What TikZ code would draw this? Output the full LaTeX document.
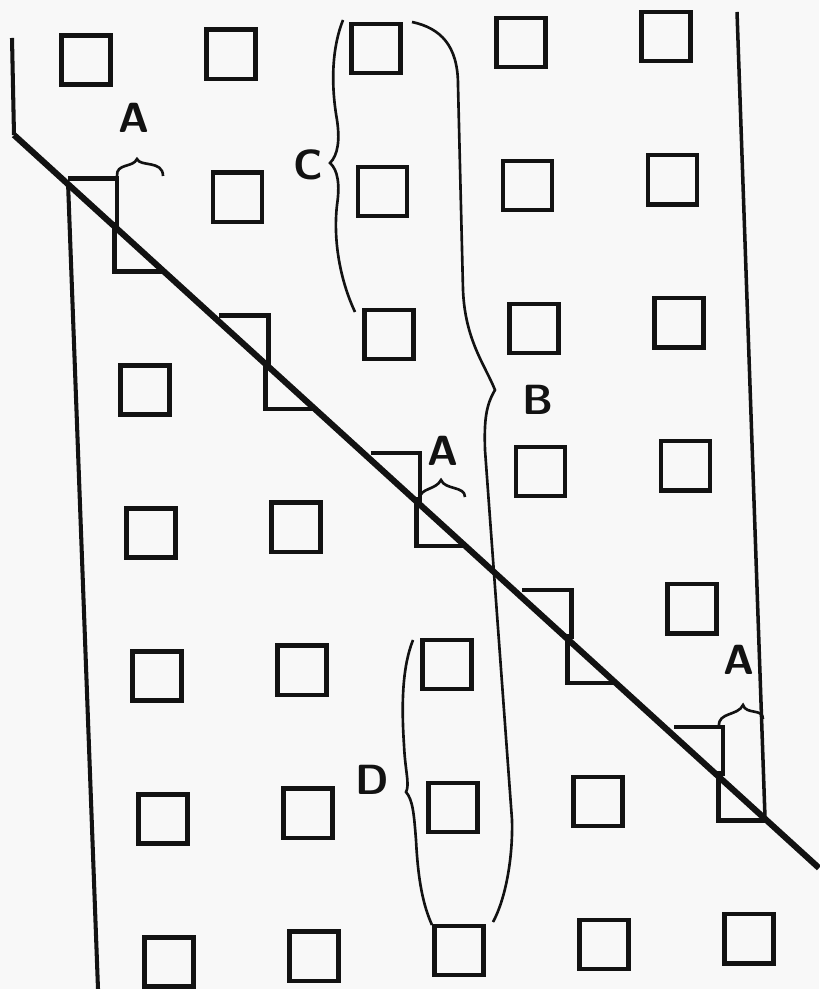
\documentclass[tikz,border=0pt]{standalone}
\usepackage{tikz}
\definecolor{paper}{RGB}{248,248,248}
\definecolor{ink}{RGB}{18,18,18}
\tikzset{
  cell/.style={rectangle, draw=ink, minimum size=0.49cm, inner sep=0pt,
    outer sep=0pt, line width=1.25pt},
  halfcell/.style={rectangle, minimum size=0.49cm, inner sep=0pt, outer sep=0pt},
  edge/.style={draw=ink, line width=1.25pt, line join=miter},
  wall/.style={draw=ink, line width=1.15pt},
  cutline/.style={draw=ink, line width=1.75pt},
  bracepath/.style={draw=ink, line width=0.75pt},
  lbl/.style={font=\fontsize{12}{14}\selectfont\sffamily\bfseries, text=ink, inner sep=0pt}
}

\begin{document}
\begin{tikzpicture}[x=0.01cm, y=-0.01cm]
  \fill[paper] (0,0) rectangle (819,989);
  \useasboundingbox (0,0) rectangle (819,989);

  % boundaries
  \coordinate (tl-top) at (12,38);
  \coordinate (tl-bend) at (14,135);
  \coordinate (cut-end) at (819,868);
  \draw[wall] (tl-top) -- (tl-bend);
  \draw[wall] (68,182) -- (98,989);
  \draw[wall, line width=1pt] (737,12) -- (765,818);

  % upper grain
  \foreach \j in {0,...,4} {
    \foreach \i in {\j,...,4} {
      \pgfmathsetmacro{\cx}{86+145*\i+6.5*\j}
      \pgfmathsetmacro{\cy}{60-5.8*\i+143*\j}
      \node[cell] (u-\i-\j) at (\cx,\cy) {};
    }
  }
  % upper half cells along the cut
  \foreach \j in {1,...,5} {
    \pgfmathtruncatemacro{\i}{\j-1}
    \pgfmathsetmacro{\cx}{86+145*\i+6.5*\j}
    \pgfmathsetmacro{\cy}{60-5.8*\i+143*\j}
    \node[halfcell] (uc-\j) at (\cx,\cy) {};
    \draw[edge] (uc-\j.north west) -- (uc-\j.north east) -- (uc-\j.south east);
  }

  % lower grain
  \foreach \k in {0,...,4} {
    \foreach \i in {0,...,\k} {
      \pgfmathsetmacro{\cx}{145+145*\i+6*\k}
      \pgfmathsetmacro{\cy}{390-5.8*\i+143*\k}
      \node[cell] (l-\i-\k) at (\cx,\cy) {};
    }
  }
  % lower half cells along the cut
  \foreach \k in {-1,...,3} {
    \pgfmathtruncatemacro{\i}{\k+1}
    \pgfmathsetmacro{\cx}{145+145*\i+6*\k}
    \pgfmathsetmacro{\cy}{390-5.8*\i+143*\k}
    \node[halfcell] (lc-\i) at (\cx,\cy) {};
    \draw[edge] (lc-\i.north west) -- (lc-\i.south west) -- (lc-\i.south east);
  }

  % the cut
  \draw[cutline] (tl-bend) -- (cut-end);

  % braces
  \draw[bracepath] (117,176) .. controls (116,163) and (133,168) .. (137,159)
    .. controls (140,167) and (163,160) .. (163,176);
  \draw[bracepath] (420,498) .. controls (420,488) and (436,490) .. (441,480)
    .. controls (445,490) and (465,486) .. (465,497);
  \draw[bracepath] (719,726) .. controls (718,712) and (738,716) .. (743,705)
    .. controls (746,715) and (763,708) .. (763,719);
  \draw[bracepath] (343,20) .. controls (333,45) and (330,80) .. (337,120)
    .. controls (340,140) and (338,155) .. (330,163)
    .. controls (338,170) and (340,185) .. (337,205)
    .. controls (333,240) and (340,280) .. (355,312);
  \draw[bracepath] (413,640) .. controls (403,665) and (401,700) .. (404,745)
    .. controls (405,770) and (410,785) .. (406,792)
    .. controls (413,800) and (414,815) .. (416,840)
    .. controls (418,880) and (423,905) .. (432,925);
  \draw[bracepath] (412,22) .. controls (440,28) and (458,45) .. (458,85)
    -- (463,290) .. controls (465,340) and (485,365) .. (495,390)
    .. controls (486,405) and (484,420) .. (485,450)
    -- (512,820) .. controls (513,860) and (505,900) .. (493,922);

  % labels
  \node[lbl] (a-left) at (134,118) {A};
  \node[lbl] (a-mid) at (443,451) {A};
  \node[lbl] (a-right) at (739,660) {A};
  \node[lbl] (b-lbl) at (538,400) {B};
  \node[lbl] (c-lbl) at (308,165) {C};
  \node[lbl] (d-lbl) at (372,780) {D};
\end{tikzpicture}
\end{document}
